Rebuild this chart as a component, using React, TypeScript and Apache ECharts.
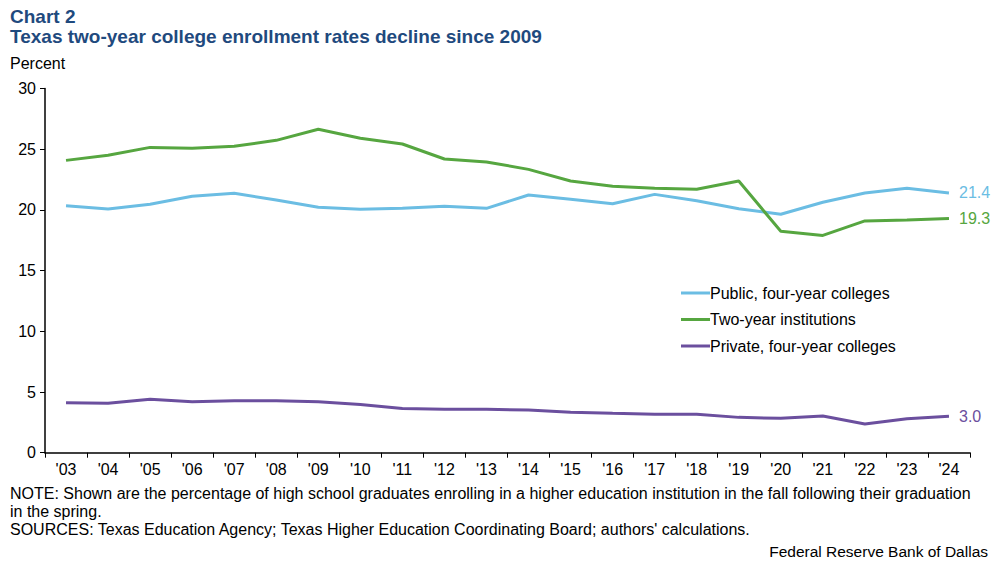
import React, { useEffect, useRef } from "react";
import * as echarts from "echarts";

const years = ["'03", "'04", "'05", "'06", "'07", "'08", "'09", "'10", "'11", "'12", "'13", "'14", "'15", "'16", "'17", "'18", "'19", "'20", "'21", "'22", "'23", "'24"];

const publicFourYear = [20.35, 20.07, 20.46, 21.12, 21.37, 20.82, 20.21, 20.05, 20.13, 20.3, 20.13, 21.23, 20.87, 20.51, 21.28, 20.76, 20.1, 19.64, 20.63, 21.39, 21.78, 21.4];
const twoYear = [24.08, 24.5, 25.15, 25.07, 25.24, 25.73, 26.64, 25.9, 25.43, 24.19, 23.95, 23.34, 22.38, 21.94, 21.78, 21.7, 22.38, 18.24, 17.9, 19.09, 19.17, 19.3];
const privateFourYear = [4.12, 4.07, 4.4, 4.2, 4.28, 4.28, 4.2, 3.98, 3.65, 3.57, 3.57, 3.52, 3.33, 3.24, 3.16, 3.16, 2.91, 2.83, 3.02, 2.36, 2.8, 3.0];

const yTicks = [0, 5, 10, 15, 20, 25, 30];

const FONT = "'Liberation Sans', Arial, sans-serif";
const BLUE = "#6bbde3";
const GREEN = "#56a640";
const PURPLE = "#6b4f9e";
const NAVY = "#1f4a7e";

function lineSeries(name: string, data: number[], color: string) {
  return {
    name,
    type: "line",
    data,
    symbol: "none",
    lineStyle: { color, width: 3 },
    itemStyle: { color },
    endLabel: {
      show: true,
      color,
      fontSize: 16,
      fontFamily: FONT,
      distance: 10,
      formatter: (p: any) => Number(p.value).toFixed(1),
    },
  };
}

export default function App() {
  const ref = useRef<HTMLDivElement>(null);

  useEffect(() => {
    const chart = echarts.init(ref.current!, undefined, { renderer: "svg" });
    chart.setOption({
      animation: false,
      backgroundColor: "#ffffff",
      textStyle: { fontFamily: FONT },
      grid: { left: 45, right: 26, top: 88.5, bottom: 111.3 },
      xAxis: {
        type: "category",
        data: years,
        boundaryGap: true,
        axisLine: { lineStyle: { color: "#000", width: 1.5 } },
        axisTick: { show: true, length: 5, alignWithLabel: false, lineStyle: { color: "#000" } },
        axisLabel: { color: "#000", fontSize: 16, margin: 9, fontFamily: FONT },
      },
      yAxis: {
        type: "value",
        min: yTicks[0],
        max: yTicks[yTicks.length - 1],
        interval: 5,
        axisLine: { show: true, lineStyle: { color: "#000", width: 1.5 } },
        axisTick: { show: true, length: 5, lineStyle: { color: "#000" } },
        axisLabel: { color: "#000", fontSize: 16, margin: 9, fontFamily: FONT },
        splitLine: { show: false },
      },
      legend: {
        orient: "vertical",
        left: 676,
        top: 280,
        itemWidth: 29,
        itemHeight: 3,
        itemGap: 10.5,
        icon: "rect",
        textStyle: { color: "#000", fontSize: 16, fontFamily: FONT, padding: [0, 0, 0, -5] },
        data: ["Public, four-year colleges", "Two-year institutions", "Private, four-year colleges"],
      },
      series: [
        lineSeries("Public, four-year colleges", publicFourYear, BLUE),
        lineSeries("Two-year institutions", twoYear, GREEN),
        lineSeries("Private, four-year colleges", privateFourYear, PURPLE),
      ],
      graphic: [
        { type: "text", left: 10, top: 7, style: { text: "Chart 2", fill: NAVY, font: `bold 19px ${FONT}` } },
        { type: "text", left: 10, top: 27, style: { text: "Texas two-year college enrollment rates decline since 2009", fill: NAVY, font: `bold 19px ${FONT}` } },
        { type: "text", left: 10, top: 55, style: { text: "Percent", fill: "#000", font: `16px ${FONT}` } },
        { type: "text", left: 10, top: 485, style: { text: "NOTE: Shown are the percentage of high school graduates enrolling in a higher education institution in the fall following their graduation", fill: "#000", font: `16px ${FONT}` } },
        { type: "text", left: 10, top: 503, style: { text: "in the spring.", fill: "#000", font: `16px ${FONT}` } },
        { type: "text", left: 10, top: 521, style: { text: "SOURCES: Texas Education Agency; Texas Higher Education Coordinating Board; authors' calculations.", fill: "#000", font: `16px ${FONT}` } },
        { type: "text", right: 8, top: 543, style: { text: "Federal Reserve Bank of Dallas", fill: "#000", font: `15.5px ${FONT}` } },
      ],
    });
    return () => chart.dispose();
  }, []);

  return <div ref={ref} style={{ width: 996, height: 564, position: "absolute", left: 0, top: 0 }} />;
}
